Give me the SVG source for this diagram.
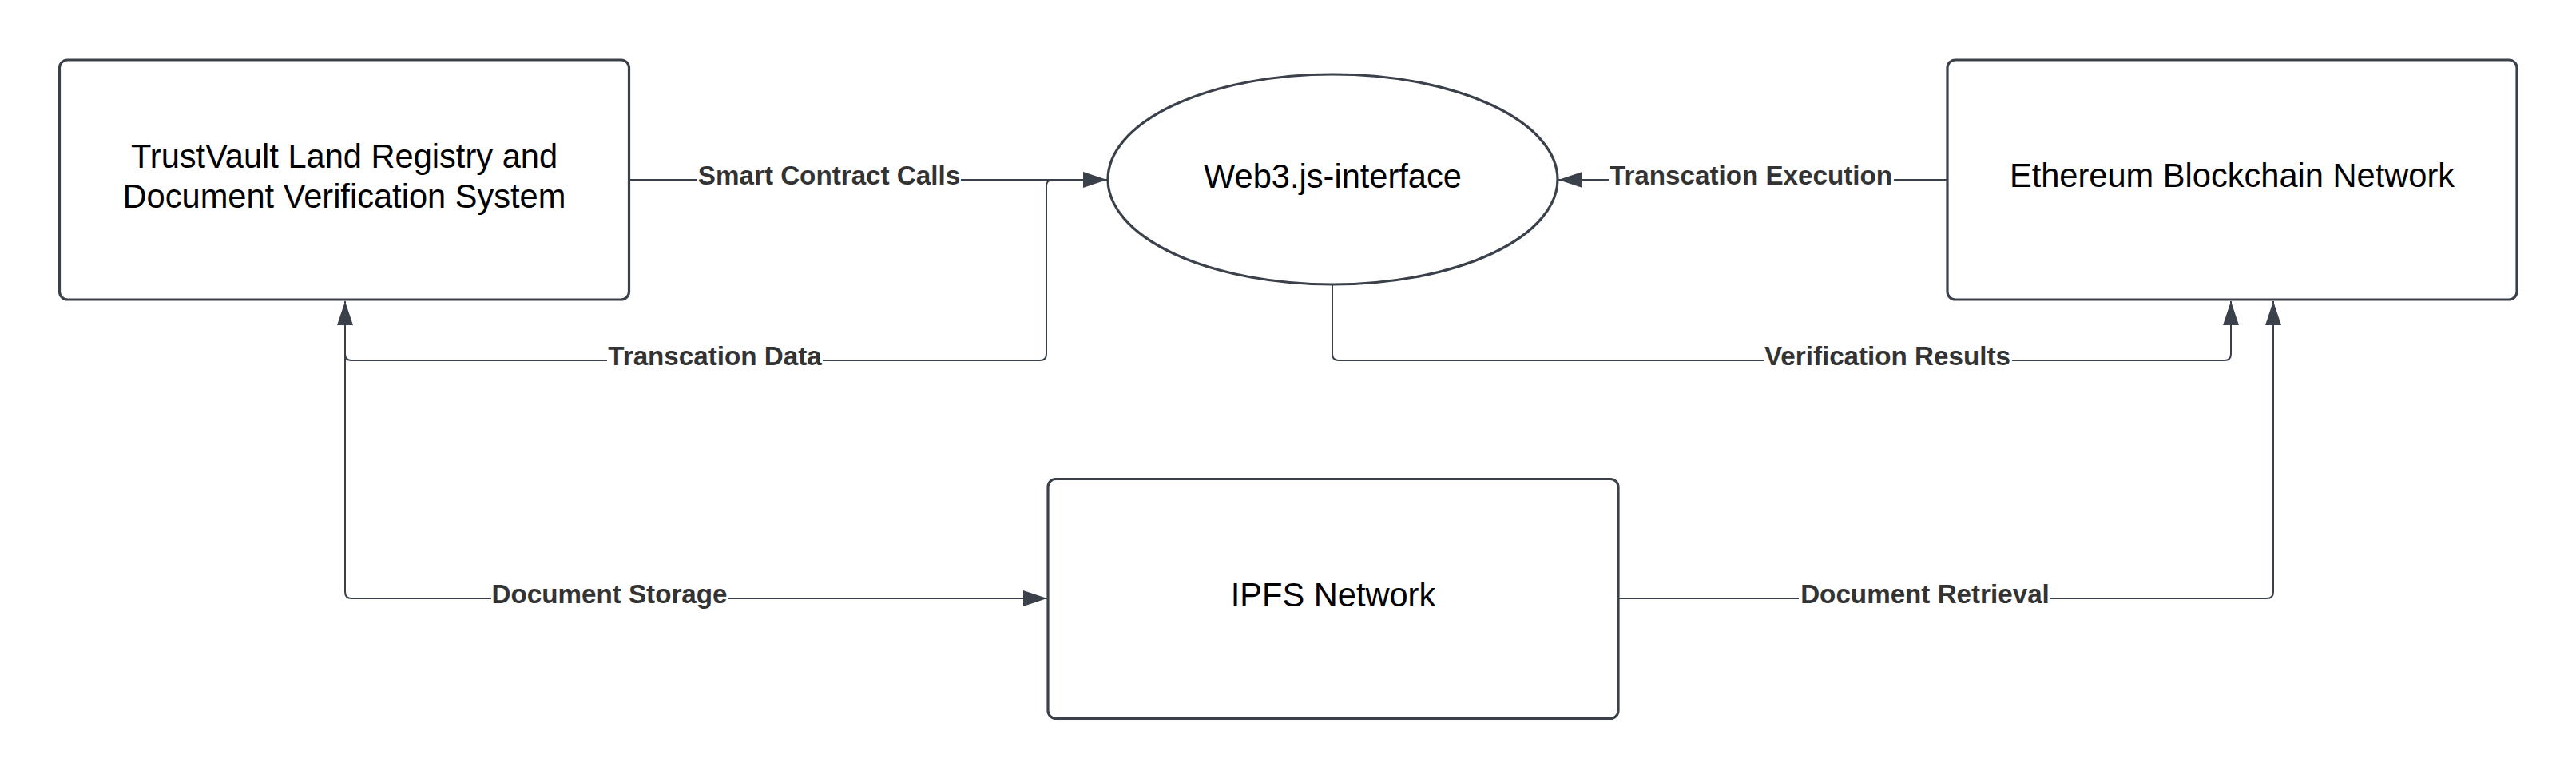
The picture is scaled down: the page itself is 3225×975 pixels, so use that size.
<svg xmlns="http://www.w3.org/2000/svg" width="3225" height="975" viewBox="0 0 3225 975">
<style>
.node{fill:#ffffff;stroke:#3a414a;stroke-width:3.2}
.ntext{font-family:"Liberation Sans",Arial,sans-serif;font-size:41.6px;fill:#000000;text-anchor:middle}
.conn{fill:none;stroke:#3a414a;stroke-width:2}
.lbl{font-family:"Liberation Sans",Arial,sans-serif;font-size:33.2px;font-weight:bold;fill:#333333;text-anchor:middle}
.lblbg{fill:#ffffff}
</style>
<defs>
<marker id="arrow" markerUnits="userSpaceOnUse" markerWidth="30" markerHeight="20" refX="30" refY="10" orient="auto">
<polygon points="0,0 30,10 0,20" fill="#3a414a"/>
</marker>
</defs>
<rect width="3225" height="975" fill="#ffffff"/>
<g id="connectors">
<path class="conn" d="M789 225 H1386" marker-end="url(#arrow)"/>
<path class="conn" d="M1386 225 H1318 Q1310 225 1310 233 V443 Q1310 451 1302 451 H440 Q432 451 432 443 V377" marker-end="url(#arrow)"/>
<path class="conn" d="M432 377 V741 Q432 749 440 749 H1311" marker-end="url(#arrow)"/>
<path class="conn" d="M2437 225 H1951" marker-end="url(#arrow)"/>
<path class="conn" d="M1668 356 V443 Q1668 451 1676 451 H2785 Q2793 451 2793 443 V377" marker-end="url(#arrow)"/>
<path class="conn" d="M2027 749 H2838 Q2846 749 2846 741 V377" marker-end="url(#arrow)"/>
<g id="labels">
<rect class="lblbg" x="873" y="205" width="330" height="34"/>
<text class="lbl" x="1038" y="231">Smart Contract Calls</text>
<rect class="lblbg" x="760" y="431" width="270" height="34"/>
<text class="lbl" x="895" y="457">Transcation Data</text>
<rect class="lblbg" x="2014" y="205" width="357" height="34"/>
<text class="lbl" x="2192" y="231">Transcation Execution</text>
<rect class="lblbg" x="2208" y="431" width="311" height="34"/>
<text class="lbl" x="2363" y="457">Verification Results</text>
<rect class="lblbg" x="615" y="729" width="296" height="34"/>
<text class="lbl" x="763" y="755">Document Storage</text>
<rect class="lblbg" x="2252" y="729" width="315" height="34"/>
<text class="lbl" x="2410" y="755">Document Retrieval</text>
</g>
</g>
<g id="trustvault">
<rect class="node" x="74.5" y="75" width="713" height="300" rx="10"/>
<text class="ntext" x="431" y="210">TrustVault Land Registry and</text>
<text class="ntext" x="431" y="260">Document Verification System</text>
</g>
<g id="web3">
<ellipse class="node" cx="1668.5" cy="224.5" rx="281.5" ry="131.5"/>
<text class="ntext" x="1668.5" y="235">Web3.js-interface</text>
</g>
<g id="ethereum">
<rect class="node" x="2438" y="75" width="713" height="300" rx="10"/>
<text class="ntext" x="2794.5" y="234">Ethereum Blockchain Network</text>
</g>
<g id="ipfs">
<rect class="node" x="1312" y="599.5" width="714" height="300" rx="10"/>
<text class="ntext" x="1669" y="759">IPFS Network</text>
</g>
</svg>
